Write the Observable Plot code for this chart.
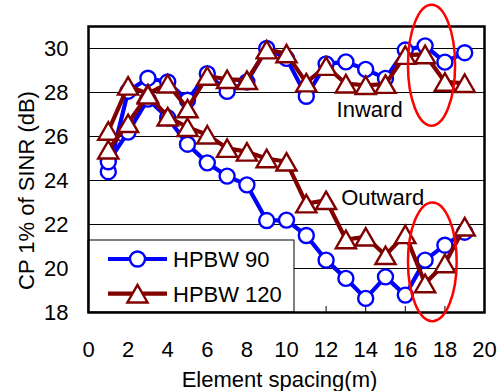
<!DOCTYPE html>
<html><head><meta charset="utf-8">
<script src="https://cdn.jsdelivr.net/npm/d3@7"></script>
<script src="https://cdn.jsdelivr.net/npm/@observablehq/plot@0.6"></script>
<style>
html,body{margin:0;padding:0;background:#fff;}
#chart{width:504px;height:391px;}
</style></head><body><div id="chart"></div>
<script>
// ---- data ----
const spacing    = [1,2,3,4,5,6,7,8,9,10,11,12,13,14,15,16,17,18,19];
const inward90   = [24.4,28.06,28.65,28.48,27.65,28.86,28.05,28.48,30.0,29.55,27.83,29.3,29.39,29.05,28.64,29.93,30.12,29.38,29.81];
const inward120  = [26.25,28.3,27.95,28.4,27.27,28.75,28.6,28.56,29.95,29.77,28.45,29.2,28.4,28.33,28.38,29.7,29.73,28.48,28.42];
const outward90  = [24.85,26.2,27.7,26.85,25.65,24.8,24.2,23.8,22.18,22.2,21.5,20.38,19.55,18.64,19.62,18.79,20.38,21.06,21.65];
const outward120 = [25.4,26.6,27.9,26.9,26.42,26.08,25.47,25.3,25.0,24.85,22.95,23.1,21.32,21.44,20.6,21.55,19.32,20.23,21.9];

const xTicks = [0,2,4,6,8,10,12,14,16,18,20];
const yTicks = [18,20,22,24,26,28,30];
const gridValues = [20,22,24,26,28,30];
const seriesNames = ["HPBW 90","HPBW 120"];
const annotations = [
  {label:"Inward",  x:12.53, y:26.88},
  {label:"Outward", x:12.76, y:22.88}
];
const highlights = [
  {x:17.35, y:29.22, rx:1.19, ry:2.75},
  {x:17.39, y:20.28, rx:1.23, ry:2.70}
];
const xLabel = "Element spacing(m)";
const yLabel = "CP 1% of SINR (dB)";

// ---- styling ----
const colors = {"HPBW 90":"#0000ff","HPBW 120":"#800000"};
const triCentered = {draw(ctx, size){
  const a = Math.sqrt(size*4/Math.sqrt(3)), h = a*Math.sqrt(3)/2;
  ctx.moveTo(0,-h/2); ctx.lineTo(a/2,h/2); ctx.lineTo(-a/2,h/2); ctx.closePath();
}};
const symbols = {"HPBW 90":"circle","HPBW 120":triCentered};

const series = [
  {name:"HPBW 90",  group:"Inward",  values:inward90},
  {name:"HPBW 90",  group:"Outward", values:outward90},
  {name:"HPBW 120", group:"Inward",  values:inward120},
  {name:"HPBW 120", group:"Outward", values:outward120}
].map(s => ({...s, rows: spacing.map((x,i)=>({x, y:s.values[i]}))}));

const seriesMarks = series.flatMap(s => [
  Plot.line(s.rows, {x:"x", y:"y", stroke:colors[s.name], strokeWidth:4.2, strokeLinejoin:"round"}),
  Plot.dot(s.rows, {x:"x", y:"y", r:7.5, symbol:()=>symbols[s.name], fill:"white", stroke:colors[s.name], strokeWidth:2.4})
]);

function ellipseMark(index, scales) {
  const {x, y} = scales;
  const g = d3.create("svg:g");
  for (const h of highlights) {
    g.append("ellipse")
      .attr("cx", x(h.x)).attr("cy", y(h.y))
      .attr("rx", Math.abs(x(h.x+h.rx)-x(h.x)))
      .attr("ry", Math.abs(y(h.y+h.ry)-y(h.y)))
      .attr("fill","none").attr("stroke","#ff0000").attr("stroke-width",2.5);
  }
  return g.node();
}

function legendMark(index, scales, values, dim) {
  const g = d3.create("svg:g");
  const x0 = dim.marginLeft, yb = dim.height - dim.marginBottom;
  g.append("rect").attr("x", x0).attr("y", yb-72).attr("width", 206).attr("height", 72)
    .attr("fill","white").attr("stroke","black").attr("stroke-width",1);
  seriesNames.forEach((name, i) => {
    const cy = yb - 53 + i*34.7;
    const c = colors[name];
    g.append("line").attr("x1", x0+20).attr("x2", x0+79).attr("y1", cy).attr("y2", cy)
      .attr("stroke", c).attr("stroke-width", 4.2);
    const sym = name === "HPBW 90" ? d3.symbolCircle : triCentered;
    g.append("path").attr("transform", `translate(${x0+49.5},${cy})`)
      .attr("d", d3.symbol(sym, Math.PI*7.5*7.5)())
      .attr("fill","white").attr("stroke", c).attr("stroke-width", 2.4);
    g.append("text").attr("x", x0+85).attr("y", cy+8.3).attr("fill","black")
      .attr("text-anchor","start").attr("font-size", 22).text(name);
  });
  return g.node();
}

const chart = Plot.plot({
  width: 504, height: 391,
  marginLeft: 88, marginRight: 20, marginTop: 26, marginBottom: 79,
  style: {fontFamily: "'Liberation Sans', Arial, sans-serif", fontSize: "22px", background: "white", overflow: "visible"},
  x: {domain: [0,20], axis: null},
  y: {domain: [18,31], axis: null},
  marks: [
    Plot.gridY(gridValues, {stroke:"black", strokeOpacity:1, strokeWidth:1}),
    Plot.ruleX(xTicks, {x: d => d, stroke:"black", strokeWidth:1, insetTop:280}),
    ...seriesMarks,
    Plot.text(annotations, {x:"x", y:"y", text:"label", textAnchor:"start", lineAnchor:"bottom", fontSize:22, fill:"black"}),
    legendMark,
    Plot.frame({stroke:"black", strokeWidth:2.5}),
    ellipseMark,
    Plot.axisX(xTicks, {anchor:"bottom", tickSize:0, tickPadding:29, label:null, fontSize:22}),
    Plot.axisY(yTicks, {anchor:"left", tickSize:0, tickPadding:20, label:null, fontSize:22}),
    Plot.text([xLabel], {frameAnchor:"bottom", text:d=>d, textAnchor:"middle", dx:-7, dy:74, lineAnchor:"bottom", fontSize:22, fill:"black", style:"letter-spacing:1.5px"}),
    Plot.text([yLabel], {frameAnchor:"left", text:d=>d, textAnchor:"middle", rotate:-90, dx:-55, dy:21, lineAnchor:"bottom", fontSize:22, fill:"black", style:"letter-spacing:0.9px"})
  ]
});
document.getElementById("chart").appendChild(chart);
</script>
</body></html>
